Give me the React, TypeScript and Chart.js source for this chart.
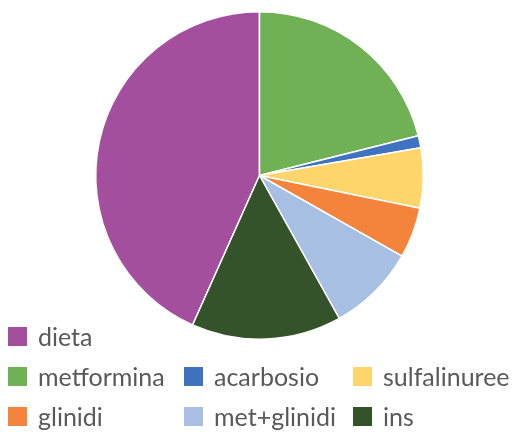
import React, { useEffect, useRef } from "react";
import { Chart, registerables } from "chart.js";

Chart.register(...registerables);

const labels = ["dieta", "metformina", "acarbosio", "sulfalinuree", "glinidi", "met+glinidi", "ins"];
const values = [43.3, 21.1, 1.2, 5.9, 5.0, 8.7, 14.8];
const colors = ["#A34F9E", "#70B155", "#3F72BF", "#FED56A", "#F4843C", "#A7BFE2", "#34532A"];

// legend slot layout: [x of box, baseline y of text]
const legendSlots = [
  [8, 346],
  [8, 386],
  [184, 386],
  [353, 386],
  [8, 426],
  [184, 426],
  [353, 426],
];

const legendPlugin = {
  id: "excelLegend",
  afterDraw(chart: any) {
    const ctx = chart.ctx;
    const labs = chart.data.labels as string[];
    const bg = chart.data.datasets[0].backgroundColor as string[];
    ctx.save();
    ctx.font = "25px Lato, 'Liberation Sans', sans-serif";
    ctx.textBaseline = "alphabetic";
    ctx.textAlign = "left";
    labs.forEach((l, i) => {
      const [x, y] = legendSlots[i];
      ctx.fillStyle = bg[i];
      ctx.fillRect(x, y - 19, 19, 19);
      ctx.fillStyle = "#595959";
      ctx.fillText(l, x + 30, y);
    });
    ctx.restore();
  },
};

export default function App() {
  const ref = useRef<HTMLCanvasElement>(null);
  useEffect(() => {
    if (!ref.current) return;
    const total = values.reduce((a, b) => a + b, 0);
    const chart = new Chart(ref.current, {
      type: "pie",
      data: {
        labels,
        datasets: [
          {
            data: values,
            backgroundColor: colors,
            borderColor: "#ffffff",
            borderWidth: 1.5,
          },
        ],
      },
      options: {
        responsive: false,
        animation: false,
        rotation: 360 - (values[0] / total) * 360,
        layout: { padding: { top: 11, bottom: 92, left: 95, right: 88 } },
        plugins: {
          legend: { display: false },
          tooltip: { enabled: false },
        },
      },
      plugins: [legendPlugin],
    });
    return () => chart.destroy();
  }, []);
  return (
    <div style={{ position: "fixed", left: 0, top: 0, width: 512, height: 432, background: "#fff" }}>
      <canvas ref={ref} width={512} height={432} style={{ width: 512, height: 432, display: "block" }} />
    </div>
  );
}
